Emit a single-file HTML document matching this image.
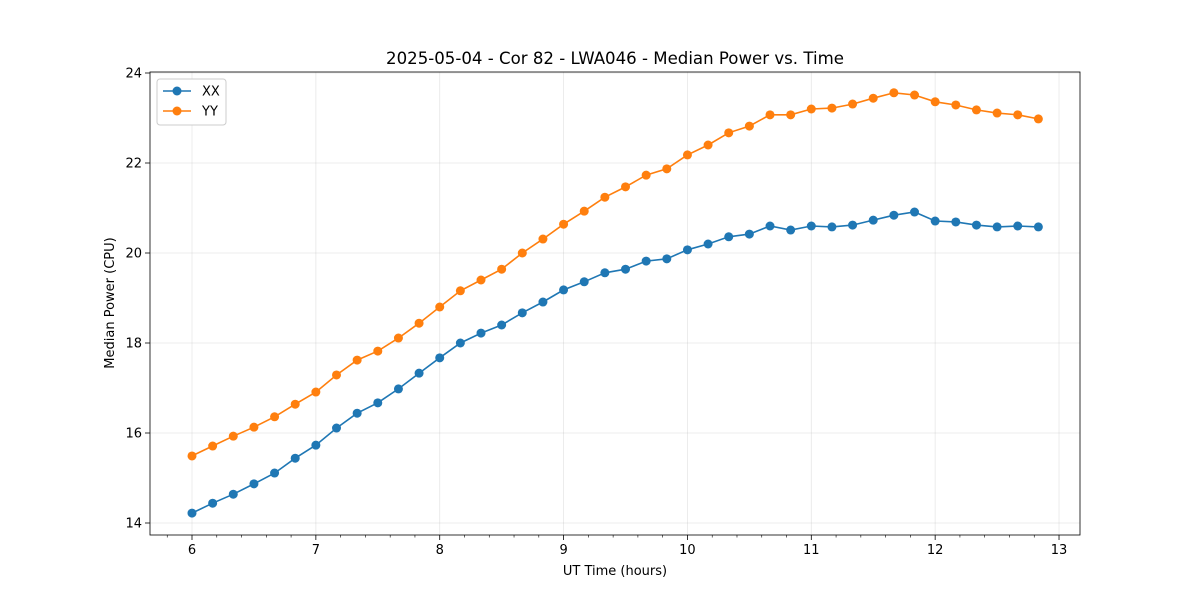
<!DOCTYPE html>
<html><head><meta charset="utf-8"><style>
body{margin:0;background:#fff;font-family:"Liberation Sans","DejaVu Sans",sans-serif;}
svg text{font-family:"DejaVu Sans","Liberation Sans",sans-serif;}
</style></head><body>
<svg id="chart" width="1200" height="600" xmlns="http://www.w3.org/2000/svg"></svg>
<script>
const times = [];
for (let i = 0; i < 42; i++) times.push(6 + i / 6);
const xxValues = [14.22,14.44,14.64,14.87,15.11,15.44,15.73,16.11,16.44,16.67,16.98,17.33,17.67,18.0,18.22,18.4,18.67,18.91,19.18,19.36,19.56,19.64,19.82,19.87,20.07,20.2,20.36,20.42,20.6,20.51,20.6,20.58,20.62,20.73,20.84,20.91,20.71,20.69,20.62,20.58,20.6,20.58];
const yyValues = [15.49,15.71,15.93,16.13,16.36,16.64,16.91,17.29,17.62,17.82,18.11,18.44,18.8,19.16,19.4,19.64,20.0,20.31,20.64,20.93,21.24,21.47,21.73,21.87,22.18,22.4,22.67,22.82,23.07,23.07,23.2,23.22,23.31,23.44,23.56,23.51,23.36,23.29,23.18,23.11,23.07,22.98];
const xTicks = [6,7,8,9,10,11,12,13];
const yTicks = [14,16,18,20,22,24];

const svg = document.getElementById('chart');
const NS = 'http://www.w3.org/2000/svg';
const L=150,R=1080,T=72,B=535;
const xs = v => 192 + (v - 6) * 123.86;
const ys = v => 73 + (24 - v) * 45;
function mk(tag, attrs, parent){const e=document.createElementNS(NS,tag);for(const k in attrs)e.setAttribute(k,attrs[k]);(parent||svg).appendChild(e);return e;}

xTicks.forEach(t=>{const g=mk('line',{x1:xs(t),x2:xs(t),y1:T,y2:B,stroke:'#b0b0b0','stroke-opacity':0.3,'stroke-width':0.8});

});
yTicks.forEach(t=>{const g=mk('line',{x1:L,x2:R,y1:ys(t),y2:ys(t),stroke:'#b0b0b0','stroke-opacity':0.3,'stroke-width':0.8});

});

function series(vals,color,name){
  const pts = vals.map((v,i)=>xs(times[i]).toFixed(1)+','+ys(v).toFixed(1)).join(' ');
  const pl = mk('polyline',{points:pts,fill:'none',stroke:color,'stroke-width':1.6});
  
  
  vals.forEach((v,i)=>{const c=mk('circle',{cx:xs(times[i]),cy:ys(v),r:4.5,fill:color});
  
  });
}
series(xxValues,'#1f77b4','xx');
series(yyValues,'#ff7f0e','yy');

const fr = mk('rect',{x:L,y:T,width:R-L,height:B-T,fill:'none',stroke:'#000','stroke-width':0.8});



xTicks.forEach(t=>{mk('line',{x1:xs(t),x2:xs(t),y1:B,y2:B+5,stroke:'#000','stroke-width':0.8});
const tx=mk('text',{x:xs(t),y:B+19,'text-anchor':'middle','font-size':13});tx.textContent=t;

});
for(let m=5.8;m<13.2;m+=0.2){const mv=Math.round(m*10)/10;if(Math.abs(mv-Math.round(mv))<1e-6)continue;const x=xs(mv);if(x<L||x>R)continue;mk('line',{x1:x,x2:x,y1:B,y2:B+2.5,stroke:'#000','stroke-width':0.6});}
yTicks.forEach(t=>{mk('line',{x1:L-5,x2:L,y1:ys(t),y2:ys(t),stroke:'#000','stroke-width':0.8});
const tx=mk('text',{x:L-8,y:ys(t)+4.5,'text-anchor':'end','font-size':13});tx.textContent=t;

});

let t1=mk('text',{x:615,y:64,'text-anchor':'middle','font-size':16.6});t1.textContent='2025-05-04 - Cor 82 - LWA046 - Median Power vs. Time';


let t2=mk('text',{x:615,y:575,'text-anchor':'middle','font-size':13});t2.textContent='UT Time (hours)';


let t3=mk('text',{x:114,y:303,'text-anchor':'middle','font-size':13,transform:'rotate(-90 114 303)'});t3.textContent='Median Power (CPU)';



const lg=mk('g',{});


mk('rect',{x:157,y:79,width:69,height:46,rx:3,fill:'#fff',stroke:'#ccc','stroke-width':1},lg);
[['XX','#1f77b4',91],['YY','#ff7f0e',111]].forEach(([n,c,y])=>{
  mk('line',{x1:163,x2:191,y1:y,y2:y,stroke:c,'stroke-width':1.5},lg);
  mk('circle',{cx:177,cy:y,r:4.5,fill:c},lg);
  const tx=mk('text',{x:202,y:y+4.5,'font-size':13},lg);tx.textContent=n;
  
  
});
</script>
</body></html>
